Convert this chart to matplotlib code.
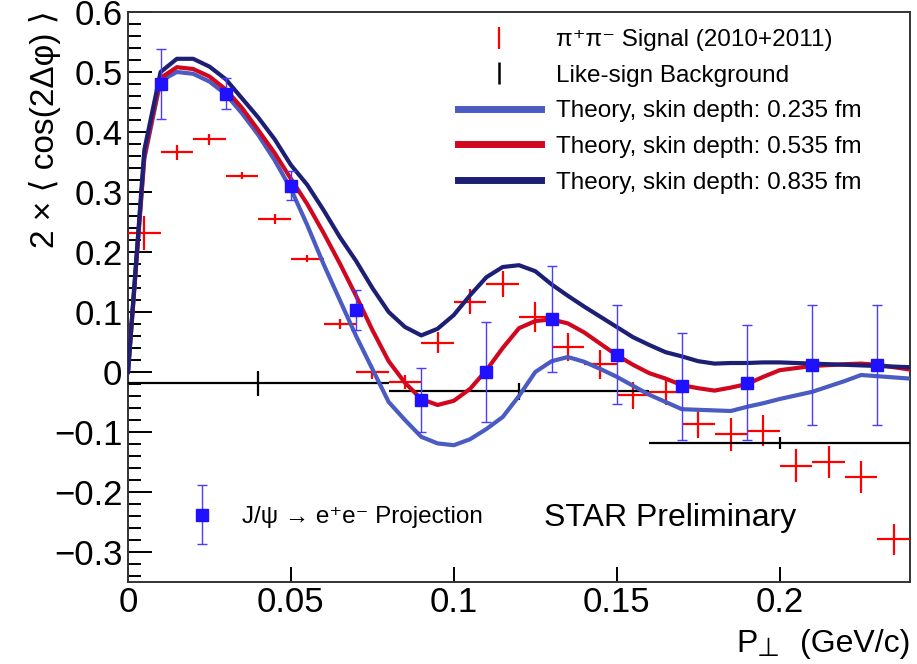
import matplotlib
matplotlib.use('Agg')
import matplotlib.pyplot as plt
from matplotlib.lines import Line2D
from matplotlib.legend_handler import HandlerErrorbar
from matplotlib.ticker import MultipleLocator
import numpy as np

plt.rcParams['font.family'] = ['Liberation Sans', 'DejaVu Sans']

# ---- pi+pi- signal (2010+2011) ----
sig_x = [0.005, 0.015, 0.025, 0.035, 0.045, 0.055, 0.065, 0.075, 0.085, 0.095,
         0.105, 0.115, 0.125, 0.135, 0.145, 0.155, 0.165, 0.175, 0.185, 0.195,
         0.205, 0.215, 0.225, 0.235]
sig_y = [0.232, 0.366, 0.388, 0.327, 0.255, 0.189, 0.080, 0.000, -0.017, 0.049,
         0.117, 0.147, 0.091, 0.042, 0.013, -0.039, -0.034, -0.086, -0.104, -0.098,
         -0.156, -0.150, -0.175, -0.279]
sig_yerr = [0.028, 0.013, 0.009, 0.006, 0.008, 0.006, 0.009, 0.012, 0.012, 0.017,
            0.021, 0.022, 0.025, 0.023, 0.024, 0.022, 0.021, 0.024, 0.027, 0.026,
            0.027, 0.026, 0.027, 0.026]
sig_xerr = 0.005

# ---- like-sign background ----
bkg_x = [0.04, 0.12, 0.20]
bkg_y = [-0.019, -0.032, -0.1185]
bkg_yerr = [0.021, 0.014, 0.010]
bkg_xerr = 0.04

# ---- J/psi -> e+e- projection ----
jpsi_x = [0.01, 0.03, 0.05, 0.07, 0.09, 0.11, 0.13, 0.15, 0.17, 0.19, 0.21, 0.23]
jpsi_y = [0.480, 0.464, 0.3105, 0.103, -0.047, 0.000, 0.088, 0.029, -0.024, -0.018, 0.011, 0.012]
jpsi_yerr = [0.059, 0.026, 0.0245, 0.033, 0.053, 0.084, 0.088, 0.082, 0.089, 0.096, 0.100, 0.100]

# ---- theory curves ----
th_x = [0.0, 0.005, 0.01, 0.015, 0.02, 0.025, 0.03, 0.035, 0.04, 0.045, 0.05,
        0.055, 0.06, 0.065, 0.07, 0.075, 0.08, 0.085, 0.09, 0.095, 0.1,
        0.105, 0.11, 0.115, 0.12, 0.125, 0.13, 0.135, 0.14, 0.145, 0.15,
        0.155, 0.16, 0.165, 0.17, 0.175, 0.18, 0.185, 0.19, 0.195, 0.2,
        0.21, 0.22, 0.225, 0.23, 0.24]
th_0235 = [0.0, 0.355, 0.485, 0.500, 0.497, 0.484, 0.463, 0.431, 0.395, 0.353, 0.305,
           0.245, 0.180, 0.120, 0.060, 0.005, -0.050, -0.080, -0.108, -0.119, -0.122,
           -0.112, -0.095, -0.075, -0.040, 0.000, 0.018, 0.025, 0.017, 0.005, -0.008,
           -0.023, -0.038, -0.050, -0.062, -0.063, -0.064, -0.065, -0.058, -0.052, -0.045,
           -0.033, -0.015, -0.005, -0.007, -0.011]
th_0535 = [0.0, 0.360, 0.490, 0.508, 0.505, 0.4925, 0.471, 0.440, 0.403, 0.365, 0.322,
           0.280, 0.232, 0.181, 0.127, 0.070, 0.018, -0.018, -0.045, -0.055, -0.048,
           -0.028, 0.003, 0.040, 0.073, 0.085, 0.0875, 0.081, 0.066, 0.047, 0.028,
           0.012, -0.002, -0.011, -0.022, -0.027, -0.031, -0.026, -0.020, -0.008, 0.003,
           0.010, 0.013, 0.014, 0.012, 0.004]
th_0835 = [0.0, 0.370, 0.500, 0.522, 0.522, 0.509, 0.488, 0.456, 0.424, 0.388, 0.345,
           0.312, 0.270, 0.225, 0.185, 0.140, 0.100, 0.075, 0.061, 0.072, 0.095,
           0.128, 0.158, 0.175, 0.178, 0.168, 0.146, 0.127, 0.109, 0.092, 0.075,
           0.058, 0.045, 0.033, 0.026, 0.018, 0.014, 0.015, 0.015, 0.016, 0.016,
           0.014, 0.012, 0.011, 0.010, 0.008]

xticks = [0, 0.05, 0.1, 0.15, 0.2]
xticklabels = ['0', '0.05', '0.1', '0.15', '0.2']
yticks = [-0.3, -0.2, -0.1, 0.0, 0.1, 0.2, 0.3, 0.4, 0.5, 0.6]
yticklabels = ['\u22120.3', '\u22120.2', '\u22120.1', '0', '0.1', '0.2', '0.3', '0.4', '0.5', '0.6']

C_LIGHT = '#4a5bc2'
C_RED = '#d0071e'
C_NAVY = '#1d1f75'
C_SIG = '#ff0000'
C_JPSI = '#1f10ff'
C_JPSI_ERR = '#4a3dff'

fig = plt.figure(figsize=(9.17, 6.64), dpi=100)
ax = fig.add_axes([128/917, 82/664, 782/917, 570/664])

# signal
sig = ax.errorbar(sig_x, sig_y, xerr=sig_xerr, yerr=sig_yerr, fmt='none',
                  ecolor=C_SIG, elinewidth=1.6, capsize=0, zorder=3)
# background
bkg = ax.errorbar(bkg_x, bkg_y, xerr=bkg_xerr, yerr=bkg_yerr, fmt='none',
                  ecolor='black', elinewidth=1.6, capsize=0, zorder=3)
# theory
l1, = ax.plot(th_x, th_0235, color=C_LIGHT, lw=3.0, zorder=4)
l2, = ax.plot(th_x, th_0535, color=C_RED, lw=3.0, zorder=5)
l3, = ax.plot(th_x, th_0835, color=C_NAVY, lw=3.0, zorder=6)
# J/psi
jp = ax.errorbar(jpsi_x, jpsi_y, yerr=jpsi_yerr, fmt='s', color=C_JPSI, ms=8,
                 mec=C_JPSI, ecolor=C_JPSI_ERR, elinewidth=1.0, capsize=3.5,
                 capthick=1.0, zorder=7)

ax.set_xlim(0, 0.24)
ax.set_ylim(-0.35, 0.6)
ax.set_xticks(xticks)
ax.set_xticklabels(xticklabels)
ax.set_yticks(yticks)
ax.set_yticklabels(yticklabels)
ax.yaxis.set_minor_locator(MultipleLocator(0.02))
ax.tick_params(axis='y', which='major', direction='in', length=17, width=1.4,
               labelsize=25, pad=4, right=False)
ax.tick_params(axis='y', which='minor', direction='in', length=9, width=1.4, right=False)
ax.tick_params(axis='x', which='major', direction='in', length=11, width=1.4,
               labelsize=25, pad=3, top=False)
for s in ax.spines.values():
    s.set_linewidth(1.4)
    s.set_color('#333333')

# legend (top right)
h_sig = Line2D([], [], color=C_SIG, marker='|', ls='none', ms=16, mew=1.6)
h_bkg = Line2D([], [], color='black', marker='|', ls='none', ms=16, mew=1.8)
leg = ax.legend([h_sig, h_bkg, l1, l2, l3],
                ['\u03c0\u207a\u03c0\u207b Signal (2010+2011)', 'Like-sign Background',
                 'Theory, skin depth: 0.235 fm', 'Theory, skin depth: 0.535 fm',
                 'Theory, skin depth: 0.835 fm'],
                loc='upper left', bbox_to_anchor=(0.422, 0.97), frameon=False,
                fontsize=17.5, handlelength=3.4, handletextpad=0.65,
                labelspacing=0.56, borderaxespad=0, borderpad=0)
for lh in leg.get_lines()[2:]:
    lh.set_linewidth(5)
ax.add_artist(leg)

leg2 = ax.legend([jp], ['J/\u03c8 \u2192 e\u207ae\u207b Projection'],
                 loc='center left', bbox_to_anchor=(0.063, 0.114), frameon=False,
                 fontsize=17.5, handlelength=2.0, handletextpad=0.65,
                 borderaxespad=0, borderpad=0,
                 handler_map={type(jp): HandlerErrorbar(yerr_size=1.2)})

ax.text(0.1665, -0.243, 'STAR Preliminary', fontsize=23, ha='center', va='center', zorder=8)

fig.text(45/917, 1 - 10/664, '2 \u00d7 \u27e8 cos(2\u0394\u03c6) \u27e9', rotation=90,
         ha='center', va='top', fontsize=24)
# x-axis title: P with a large perpendicular subscript, then units
fig.text(758/917, 12/664, 'P', ha='right', va='baseline', fontsize=23)
fig.text(768/917, 2/664, '\u22a5', ha='center', va='bottom', fontsize=19,
         family=['DejaVu Sans'])
fig.text(910/917, 12/664, '(GeV/c)', ha='right', va='baseline', fontsize=23)

fig.savefig('out.png', dpi=100)
